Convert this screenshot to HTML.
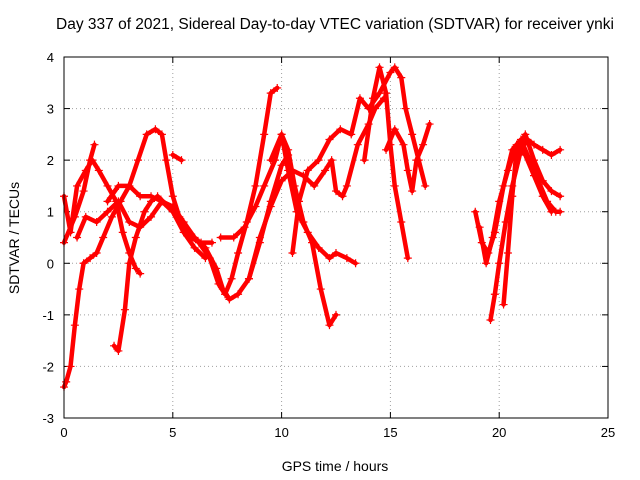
<!DOCTYPE html>
<html><head><meta charset="utf-8">
<style>
html,body{margin:0;padding:0;background:#fff;}
svg{display:block;font-family:"Liberation Sans",sans-serif;}
</style></head>
<body>
<svg id="chart" width="640" height="480" viewBox="0 0 640 480" xmlns="http://www.w3.org/2000/svg">
<rect width="640" height="480" fill="#fff"/>
<text x="335" y="29" font-size="15.5" text-anchor="middle">Day 337 of 2021, Sidereal Day-to-day VTEC variation (SDTVAR) for receiver ynki</text>
<text x="335" y="471" font-size="14" text-anchor="middle">GPS time / hours</text>
<text transform="translate(19,238) rotate(-90)" font-size="14" text-anchor="middle">SDTVAR / TECUs</text>
<g id="grid"></g><g id="ticks"></g><g id="series"></g>
<rect x="64" y="57" width="544" height="361" fill="none" stroke="#000" stroke-width="1"/>
</svg>
<script>
const xTicks=[0,5,10,15,20,25];
const yTicks=[-3,-2,-1,0,1,2,3,4];
const traceA=[[0,-2.4],[0.1,-2.3],[0.3,-2],[0.5,-1.2],[0.7,-0.5],[0.9,0],[1.2,0.1],[1.5,0.2],[1.8,0.5],[2.2,0.9],[2.6,1.2],[3,1.5],[3.4,2.0],[3.8,2.5],[4.2,2.6],[4.5,2.5],[4.7,2.0],[5,1.3],[5.3,0.9],[5.7,0.6],[6.2,0.4],[6.7,0.1],[7.1,-0.4],[7.4,-0.6],[7.7,-0.3],[8,0.2],[8.4,0.8],[8.8,1.5],[9.2,2.5],[9.5,3.3],[9.8,3.4]];
const traceB=[[0,1.3],[0.3,0.6],[0.6,1.5],[1,1.8],[1.3,2.0],[1.6,1.8],[2,1.5],[2.4,1.2],[2.7,0.6],[3,0.2],[3.3,-0.1],[3.5,-0.2]];
const traceC=[[0,0.4],[0.5,0.9],[0.9,1.4],[1.2,2.0],[1.4,2.3]];
const traceD=[[0.6,0.5],[1,0.9],[1.5,0.8],[2,1.0],[2.5,1.2],[3,0.8],[3.5,0.7],[4,0.9],[4.5,1.2],[5,1.0],[5.5,0.6],[6,0.3],[6.5,0.1]];
const traceE=[[2.3,-1.6],[2.5,-1.7],[2.8,-0.9],[3,0],[3.3,0.5],[3.7,1.0],[4.0,1.2],[4.3,1.3],[4.8,1.1],[5.2,0.9],[5.8,0.5],[6.3,0.4],[6.8,0.4]];
const traceF=[[2,1.2],[2.5,1.5],[3,1.5],[3.5,1.3],[4,1.3],[4.5,1.2],[5,1.1],[5.5,0.8],[6,0.5],[6.5,0.3],[7,-0.1],[7.3,-0.5],[7.6,-0.7],[8,-0.6],[8.5,-0.3],[9,0.4],[9.5,1.2],[10,1.9],[10.3,2.1]];
const traceG=[[5,2.1],[5.4,2.0]];
const traceH=[[7.2,0.5],[7.8,0.5],[8.3,0.7],[8.8,1.1],[9.2,1.5],[9.7,2.0],[10,2.5],[10.3,1.8],[10.7,1.0],[11.2,0.6],[11.7,0.3],[12.2,0.1],[12.5,0.2],[13,0.1],[13.4,0.0]];
const traceI=[[8.5,-0.3],[9,0.5],[9.5,1.1],[10,1.6],[10.5,1.8],[11,1.7],[11.5,1.5],[12,1.8],[12.3,2.0],[12.5,1.4],[12.8,1.3],[13,1.5],[13.5,2.3],[14,2.7],[14.3,3.0],[14.7,3.2]];
const traceJ=[[9.5,2.0],[10,2.5],[10.3,2.2],[10.6,1.5],[11,0.8],[11.4,0.4],[11.8,-0.5],[12.2,-1.2],[12.5,-1.0]];
const traceK=[[10.5,0.2],[10.8,1.2],[11.2,1.8],[11.7,2.0],[12.2,2.4],[12.7,2.6],[13.2,2.5],[13.6,3.2],[14,3.0],[14.5,3.3],[15,3.7],[15.2,3.8],[15.5,3.6],[15.7,3.0],[16,2.5],[16.3,2.0],[16.6,1.5]];
const traceL=[[13.8,2.0],[14.2,3.2],[14.5,3.8],[14.8,3.3],[15,2.3],[15.2,1.5],[15.5,0.8],[15.8,0.1]];
const traceM=[[14.8,2.2],[15.2,2.6],[15.6,2.3],[15.8,1.8],[16,1.4],[16.2,2.0],[16.5,2.3],[16.8,2.7]];
const traceN=[[18.9,1.0],[19.2,0.4],[19.5,0.2],[19.8,0.6],[20.2,1.5],[20.6,2.2],[21,2.4],[21.4,2.0],[21.8,1.6],[22.2,1.2],[22.6,1.0],[22.8,1.0]];
const traceO=[[19.6,-1.1],[19.8,-0.6],[20,0],[20.3,0.8],[20.6,1.5],[21,2.2],[21.3,2.4],[21.6,2.3],[22,2.2],[22.4,2.1],[22.8,2.2]];
const traceP=[[20.2,-0.8],[20.4,0.2],[20.6,1.3],[20.8,2.2],[21.2,2.5],[21.6,2.0],[22,1.6],[22.4,1.4],[22.8,1.3]];
const traceQ=[[19.1,0.7],[19.4,0],[19.7,0.5],[20,1.2],[20.4,1.8],[20.8,2.3],[21.2,2.1],[21.6,1.7],[22,1.3],[22.4,1.0]];
const traces=[traceA,traceB,traceC,traceD,traceE,traceF,traceG,traceH,traceI,traceJ,traceK,traceL,traceM,traceN,traceO,traceP,traceQ];

const NS="http://www.w3.org/2000/svg";
const X0=64,X1=608,Y0=418,Y1=57;
function xs(v){return X0+(v-0)/(25-0)*(X1-X0);}
function ys(v){return Y0-(v+3)/(4+3)*(Y0-Y1);}
function mk(t,a,p){const e=document.createElementNS(NS,t);for(const k in a)e.setAttribute(k,a[k]);p.appendChild(e);return e;}
const grid=document.getElementById('grid'),ticks=document.getElementById('ticks'),series=document.getElementById('series');
xTicks.forEach(v=>{const x=xs(v);
 if(v>0&&v<25){const g=mk('line',{x1:x,x2:x,y1:Y0,y2:Y1,stroke:'#a0a0a0','stroke-dasharray':'1,3'},grid);
 
 }
 mk('line',{x1:x,x2:x,y1:Y0,y2:Y0-6,stroke:'#000'},ticks);mk('line',{x1:x,x2:x,y1:Y1,y2:Y1+6,stroke:'#000'},ticks);
 const t=mk('text',{x:x,y:Y0+19,'font-size':13,'text-anchor':'middle'},ticks);t.textContent=v;
 
 });
yTicks.forEach(v=>{const y=ys(v);
 if(v>-3&&v<4){const g=mk('line',{x1:X0,x2:X1,y1:y,y2:y,stroke:'#a0a0a0','stroke-dasharray':'1,3'},grid);
 
 }
 mk('line',{x1:X0,x2:X0+6,y1:y,y2:y,stroke:'#000'},ticks);mk('line',{x1:X1,x2:X1-6,y1:y,y2:y,stroke:'#000'},ticks);
 const t=mk('text',{x:X0-10,y:y+5,'font-size':13,'text-anchor':'end'},ticks);t.textContent=v;
 
 });
traces.forEach((tr,i)=>{
 const g=mk('g',{},series);
 
 
 mk('polyline',{points:tr.map(p=>xs(p[0])+','+ys(p[1])).join(' '),fill:'none',stroke:'#ff0000','stroke-width':4.5,'stroke-linejoin':'round','stroke-linecap':'round'},g);
 tr.forEach(p=>{const x=xs(p[0]),y=ys(p[1]);
  mk('path',{d:`M${x-4},${y}H${x+4}M${x},${y-4}V${y+4}`,stroke:'#ff0000','stroke-width':1.2},g);});
});
</script>
</body></html>
